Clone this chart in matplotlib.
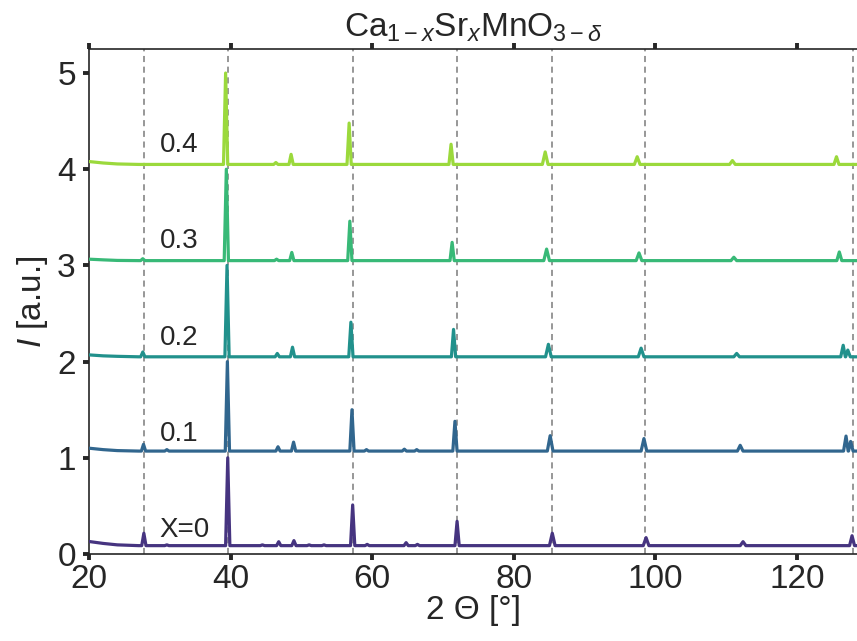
import matplotlib.pyplot as plt
import numpy as np

plt.rcParams['font.family'] = ['Liberation Sans', 'DejaVu Sans']
plt.rcParams['mathtext.fontset'] = 'custom'
plt.rcParams['mathtext.rm'] = 'Liberation Sans'
plt.rcParams['mathtext.it'] = 'Liberation Sans:italic'
plt.rcParams['mathtext.bf'] = 'Liberation Sans:bold'

# sample labels (Sr content x) and vertical offsets
labels = ["X=0", "0.1", "0.2", "0.3", "0.4"]
offsets = [0, 1, 2, 3, 4]

# baseline knots (2theta, normalised intensity)
base_x = [20, 22, 24, 27, 128.5]
base_y = [
    [0.13, 0.11, 0.095, 0.087, 0.087],
    [0.10, 0.085, 0.075, 0.07, 0.07],
    [0.07, 0.06, 0.055, 0.05, 0.05],
    [0.065, 0.058, 0.052, 0.05, 0.05],
    [0.08, 0.065, 0.055, 0.05, 0.05],
]

# reflections: position (deg) and peak top (normalised)
peak_pos = [
    [27.75, 31.0, 39.6, 44.5, 46.8, 48.95, 51.1, 53.2, 57.25, 59.3, 64.8, 66.4, 72.0, 85.45, 98.7, 112.4, 127.8],
    [27.7, 31.0, 39.55, 46.7, 48.9, 57.15, 59.2, 64.55, 66.3, 71.7, 85.15, 98.4, 112.0, 126.95, 127.6],
    [27.6, 39.5, 46.6, 48.75, 57.0, 71.5, 84.9, 98.0, 111.5, 126.55, 127.2],
    [27.6, 39.4, 46.5, 48.65, 56.85, 71.3, 84.65, 97.7, 111.1, 126.0],
    [39.3, 46.4, 48.55, 56.75, 71.15, 84.45, 97.45, 110.9, 125.6],
]
peak_top = [
    [0.216, 0.095, 1.0, 0.095, 0.128, 0.139, 0.095, 0.095, 0.51, 0.1, 0.118, 0.1, 0.34, 0.216, 0.17, 0.128, 0.19],
    [0.14, 0.085, 1.0, 0.115, 0.163, 0.50, 0.085, 0.09, 0.085, 0.38, 0.23, 0.20, 0.13, 0.226, 0.17],
    [0.10, 1.0, 0.085, 0.15, 0.41, 0.335, 0.18, 0.14, 0.085, 0.17, 0.12],
    [0.07, 1.0, 0.065, 0.135, 0.46, 0.24, 0.17, 0.13, 0.085, 0.14],
    [1.0, 0.07, 0.155, 0.48, 0.26, 0.18, 0.13, 0.09, 0.13],
]

# reference reflection positions (dashed lines)
ref_lines = [27.75, 39.6, 57.25, 72.0, 85.4, 98.6, 127.9]

colors = plt.cm.viridis(np.linspace(0.15, 0.85, 5))


def peak_halfwidth(p):
    if p > 120:
        return 0.35
    if p > 80:
        return 0.4
    return 0.3


def build_pattern(by, pos, top):
    xs = list(base_x)
    ys = list(by)
    flat = by[-1]
    for p, t in zip(pos, top):
        w = peak_halfwidth(p)
        xs += [p - w, p, p + w]
        ys += [flat, t, flat]
    order = np.argsort(xs)
    return np.array(xs)[order], np.array(ys)[order]


fig = plt.figure(figsize=(8.57, 6.41), dpi=100)
ax = fig.add_axes([89 / 857, 87 / 641, 768 / 857, 505 / 641])

for xr in ref_lines:
    ax.axvline(xr, color='#7a7a7a', lw=1.1, ls=(0, (4, 3)), zorder=1)

for i in range(5):
    xs, ys = build_pattern(base_y[i], peak_pos[i], peak_top[i])
    ax.plot(xs, ys + offsets[i], color=colors[i], lw=2.3, zorder=3)
    ax.text(30.0, offsets[i] + 0.25, labels[i], fontsize=20, color='#262626',
            ha='left', va='center', zorder=4)

ax.set_xlim(20, 128.5)
ax.set_ylim(0, 5.25)
ax.set_xticks([20, 40, 60, 80, 100, 120])
ax.set_yticks([0, 1, 2, 3, 4, 5])

ax.spines['right'].set_visible(False)
for s in ['left', 'bottom', 'top']:
    ax.spines[s].set_color('#262626')
    ax.spines[s].set_linewidth(1.2)

ax.tick_params(axis='both', direction='out', length=4.5, width=2.8,
               colors='#262626', labelsize=24)
ax.tick_params(axis='y', pad=5)
ax.tick_params(axis='x', top=True, labeltop=False, pad=3)

ax.set_xlabel("2 Θ [°]", fontsize=24, color='#262626', labelpad=0)
ax.set_ylabel("$I$ [a.u.]", fontsize=24, color='#262626', labelpad=5)
ax.set_title(r"Ca$_{1-x}$Sr$_x$MnO$_{3-\delta}$", fontsize=24, color='#262626', pad=9)

fig.savefig('out.png', dpi=100)
